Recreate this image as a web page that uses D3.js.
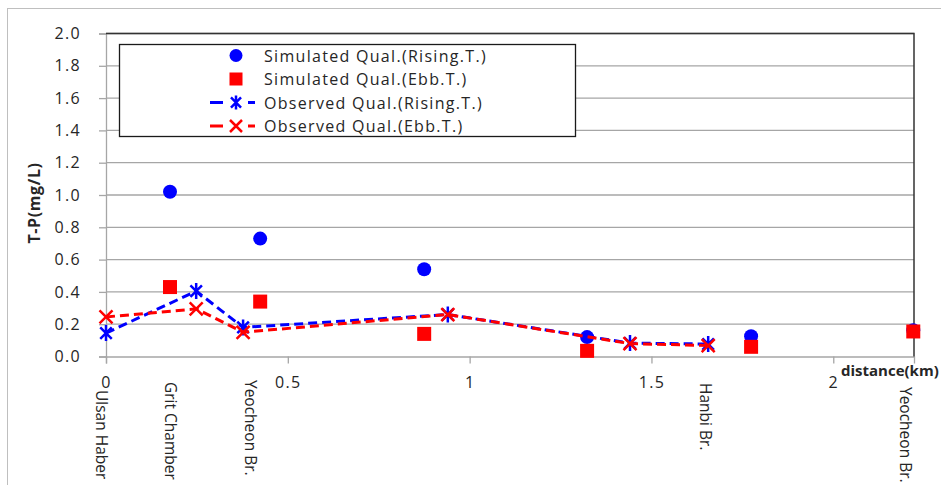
<!DOCTYPE html>
<html>
<head>
<meta charset="utf-8">
<script src="https://cdn.jsdelivr.net/npm/d3@7.9.0/dist/d3.min.js"></script>
<style>
  html, body { margin: 0; padding: 0; background: #fff; }
  svg { display: block; font-family: "Open Sans", sans-serif; }
  svg text { letter-spacing: 1.3px; }
</style>
</head>
<body>
<svg id="chart" width="941" height="485"></svg>
<script>
// simulated water quality (T-P, mg/L) at model nodes
const simDistance = [0.176, 0.424, 0.875, 1.323, 1.774, 2.22];
const simRising = [1.02, 0.73, 0.54, 0.12, 0.125, 0.163];
const simEbb = [0.43, 0.34, 0.14, 0.035, 0.06, 0.155];

// observed water quality at survey stations
const obsDistance = [0, 0.248, 0.377, 0.94, 1.441, 1.656];
const obsRising = [0.145, 0.405, 0.18, 0.26, 0.083, 0.077];
const obsEbb = [0.245, 0.295, 0.15, 0.26, 0.08, 0.068];

// station names shown under the axis
const stationNames = ['Ulsan Haber', 'Grit Chamber', 'Yeocheon Br.', 'Hanbi Br.', 'Yeocheon Br.'];
const stationKm = [-0.01, 0.18, 0.40, 1.65, 2.20];

const xTicks = [0, 0.5, 1, 1.5, 2];
const yTicks = [0, 0.2, 0.4, 0.6, 0.8, 1.0, 1.2, 1.4, 1.6, 1.8, 2.0];

const seriesNames = [
  'Simulated Qual.(Rising.T.)',
  'Simulated Qual.(Ebb.T.)',
  'Observed Qual.(Rising.T.)',
  'Observed Qual.(Ebb.T.)'
];

const BLUE = '#0000ff', RED = '#ff0000';
const FS = 16;
const plotLeft = 106, plotRight = 914, plotTop = 33.5, plotBottom = 356.5;

const svg = d3.select('#chart');

// outer chart frame (right/bottom edges fall outside the picture)
svg.append('rect')
  .attr('x', 7.5).attr('y', 8.5)
  .attr('width', 960).attr('height', 500)
  .attr('fill', '#fff').attr('stroke', '#bfbfbf');

const x = d3.scaleLinear().domain([0, 2.222]).range([plotLeft, plotRight]);
const y = d3.scaleLinear().domain([0, 2]).range([plotBottom, plotTop]);

// gridlines
svg.append('g')
  .selectAll('line')
  .data(yTicks.slice(1))
  .join('line')
  .attr('x1', plotLeft).attr('x2', plotRight)
  .attr('y1', d => y(d)).attr('y2', d => y(d))
  .attr('stroke', '#a6a6a6').attr('stroke-width', 1.3);

// y axis
const yAxis = svg.append('g')
  .attr('transform', `translate(${plotLeft},0)`)
  .call(d3.axisLeft(y).tickValues(yTicks).tickFormat(d3.format('.1f')).tickSize(7).tickPadding(18));
yAxis.select('.domain').attr('stroke', '#a6a6a6').attr('stroke-width', 1.3);
yAxis.selectAll('.tick line').attr('stroke', '#a6a6a6').attr('stroke-width', 1.3);
yAxis.selectAll('.tick text')
  .attr('font-size', FS).attr('fill', '#262626')
  .attr('font-family', '"Open Sans", sans-serif');

// x axis
const xAxis = svg.append('g')
  .attr('transform', `translate(0,${plotBottom})`)
  .call(d3.axisBottom(x).tickValues(xTicks).tickFormat(d3.format('')).tickSize(7).tickPadding(13));
xAxis.select('.domain').attr('stroke', '#a6a6a6').attr('stroke-width', 1.3);
xAxis.selectAll('.tick line').attr('stroke', '#a6a6a6').attr('stroke-width', 1.3);
xAxis.selectAll('.tick text')
  .attr('font-size', FS).attr('fill', '#262626')
  .attr('font-family', '"Open Sans", sans-serif');

// top and right frame of plot area
svg.append('path')
  .attr('d', `M${plotLeft},${plotTop}H${plotRight}V${plotBottom}`)
  .attr('fill', 'none').attr('stroke', '#333').attr('stroke-width', 1.5);

// axis titles
svg.append('text')
  .attr('transform', 'translate(34,203) rotate(-90)')
  .attr('text-anchor', 'middle').attr('dominant-baseline', 'central')
  .attr('font-size', FS).attr('font-weight', 'bold').attr('fill', '#262626')
  .style('letter-spacing', '0.6px')
  .text('T-P(mg/L)');

svg.append('text')
  .attr('x', 841).attr('y', 370)
  .attr('dominant-baseline', 'central')
  .attr('font-size', 15).attr('font-weight', 'bold').attr('fill', '#262626')
  .style('letter-spacing', '0px')
  .text('distance(km)');

// station labels, vertical
const labelStartY = [390, 382, 380, 383, 387];
svg.append('g')
  .selectAll('text')
  .data(stationNames)
  .join('text')
  .attr('transform', (d, i) => `translate(${x(stationKm[i])},${labelStartY[i]}) rotate(90)`)
  .attr('dominant-baseline', 'central')
  .attr('font-size', 15.5).attr('fill', '#262626')
  .style('letter-spacing', '0px')
  .text(d => d);

// marker shapes
const starPath = s => `M0,${-s}V${s}M${-s * 0.72},${-s * 0.72}L${s * 0.72},${s * 0.72}M${-s * 0.72},${s * 0.72}L${s * 0.72},${-s * 0.72}`;
const crossPath = s => `M${-s},${-s}L${s},${s}M${-s},${s}L${s},${-s}`;

const simR = simDistance.map((d, i) => [d, simRising[i]]);
const simE = simDistance.map((d, i) => [d, simEbb[i]]);
const obsR = obsDistance.map((d, i) => [d, obsRising[i]]);
const obsE = obsDistance.map((d, i) => [d, obsEbb[i]]);

const plot = svg.append('g');

// simulated: circles and squares
plot.append('g').selectAll('circle')
  .data(simR).join('circle')
  .attr('cx', d => x(d[0])).attr('cy', d => y(d[1]))
  .attr('r', 7).attr('fill', BLUE);

plot.append('g').selectAll('rect')
  .data(simE).join('rect')
  .attr('x', d => x(d[0]) - 7).attr('y', d => y(d[1]) - 7)
  .attr('width', 14).attr('height', 14).attr('fill', RED);

const line = d3.line().x(d => x(d[0])).y(d => y(d[1]));

// observed rising: dashed blue with star markers
plot.append('path')
  .datum(obsR).attr('d', line)
  .attr('fill', 'none').attr('stroke', BLUE)
  .attr('stroke-width', 3).attr('stroke-dasharray', '9,5');
plot.append('g').selectAll('path')
  .data(obsR).join('path')
  .attr('transform', d => `translate(${x(d[0])},${y(d[1])})`)
  .attr('d', starPath(8))
  .attr('fill', 'none').attr('stroke', BLUE).attr('stroke-width', 2.5);

// observed ebb: dashed red with x markers
plot.append('path')
  .datum(obsE).attr('d', line)
  .attr('fill', 'none').attr('stroke', RED)
  .attr('stroke-width', 3).attr('stroke-dasharray', '9,5');
plot.append('g').selectAll('path')
  .data(obsE).join('path')
  .attr('transform', d => `translate(${x(d[0])},${y(d[1])})`)
  .attr('d', crossPath(6.5))
  .attr('fill', 'none').attr('stroke', RED).attr('stroke-width', 2.5);

// legend
const legend = svg.append('g');
legend.append('rect')
  .attr('x', 119.5).attr('y', 44.5)
  .attr('width', 456).attr('height', 92)
  .attr('fill', '#fff').attr('stroke', '#1a1a1a').attr('stroke-width', 1.3);

const rowY = d3.scalePoint().domain(seriesNames).range([55.5, 126]);
const symX = 236;

seriesNames.forEach((name, i) => {
  const g = legend.append('g').attr('transform', `translate(0,${rowY(name)})`);
  if (i === 0) {
    g.append('circle').attr('cx', symX).attr('r', 6.5).attr('fill', BLUE);
  } else if (i === 1) {
    g.append('rect').attr('x', symX - 6.5).attr('y', -6.5)
      .attr('width', 13).attr('height', 13).attr('fill', RED);
  } else {
    const col = i === 2 ? BLUE : RED;
    g.append('path').attr('d', `M210,0H223M248,0H255`)
      .attr('stroke', col).attr('stroke-width', 3);
    g.append('path')
      .attr('transform', `translate(${symX},0)`)
      .attr('d', i === 2 ? starPath(7) : crossPath(6))
      .attr('fill', 'none').attr('stroke', col).attr('stroke-width', 2.5);
  }
  g.append('text')
    .attr('x', 264).attr('dominant-baseline', 'central')
    .attr('font-size', FS).attr('fill', '#262626')
    .text(name);
});
</script>
</body>
</html>
